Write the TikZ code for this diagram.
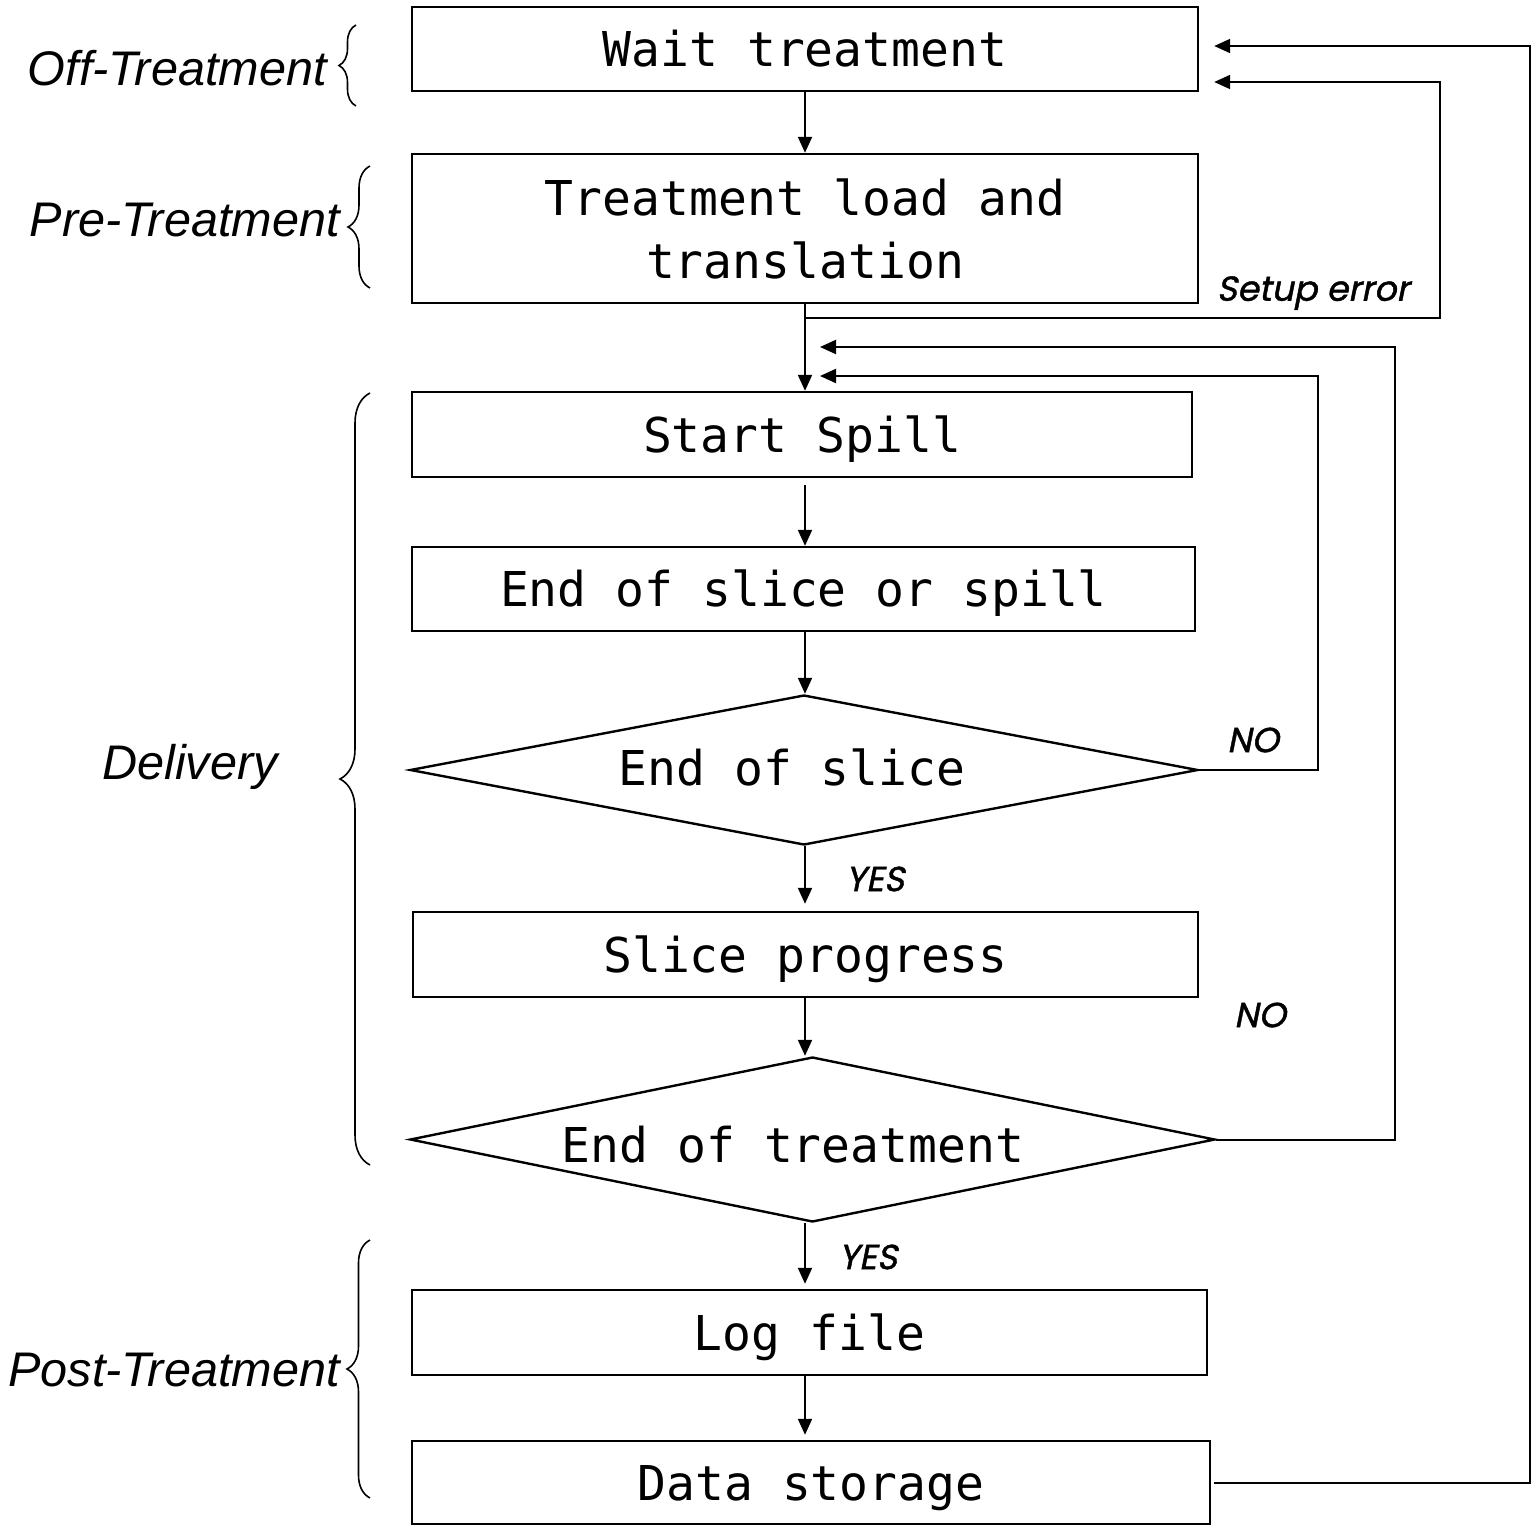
\documentclass[tikz,border=0pt]{standalone}
\usepackage{fontspec}
\setmainfont{Liberation Sans}
\newfontfamily\monof{DejaVu Sans Mono}
\newfontfamily\gothic[FakeSlant=0.2,FakeBold=1.2]{Poppins}
\usetikzlibrary{shapes.geometric,arrows.meta,decorations.pathreplacing}
\begin{document}
\begin{tikzpicture}[x=0.5pt,y=-0.5pt,
  box/.style={draw, line width=1.2pt, rectangle, inner sep=0pt, font=\monof\fontsize{24}{31.5}\selectfont, align=center},
  one/.style={text height=17.5pt, text depth=0pt},
  dia/.style={draw, line width=1.2pt, diamond, inner sep=0pt},
  dtext/.style={inner sep=0pt, font=\monof\fontsize{24}{31.5}\selectfont, text height=17.5pt, text depth=0pt},
  arr/.style={line width=1pt, -{Triangle[length=8pt,width=7pt]}},
  side/.style={font=\itshape\fontsize{24.3}{28}\selectfont, inner sep=0pt},
  tag/.style={font=\gothic\fontsize{17.4}{20}\selectfont, inner sep=0pt},
  brc/.style={decorate, line width=0.8pt}
]
\useasboundingbox (0,0) rectangle (1532,1526);

% boxes
\node[box, one, minimum width=393pt, minimum height=42pt] (wait) at (805,49) {Wait treatment};
\node[box, minimum width=393pt, minimum height=74.5pt] (load) at (805,228.5) {Treatment load and\\translation};
\node[box, one, minimum width=390pt, minimum height=42.5pt] (spill) at (802,434.5) {Start Spill};
\node[box, one, minimum width=391.5pt, minimum height=42pt] (eos) at (803.5,589) {End of slice or spill};
\node[dia, minimum width=394pt, minimum height=75pt] (d1) at (804,770) {};
\node[dtext] (d1t) at (792,768) {End of slice};
\node[box, one, minimum width=392.5pt, minimum height=42.5pt] (sp) at (805.5,954.5) {Slice progress};
\node[dia, minimum width=402.5pt, minimum height=82.5pt] (d2) at (812.5,1139.5) {};
\node[dtext] (d2t) at (793,1145) {End of treatment};
\node[box, one, minimum width=397.5pt, minimum height=42.5pt] (log) at (809.5,1332.5) {Log file};
\node[box, one, minimum width=399pt, minimum height=41.5pt] (ds) at (811,1482.5) {Data storage};

% main flow
\draw[arr] (wait.south) -- (load.north);
\coordinate (sej) at (805,318);
\draw[arr] (load.south) -- (load.south |- spill.north);
\draw[arr, shorten <=3.5pt] (spill.south -| load.south) -- (eos.north -| load.south);
\draw[arr] (eos.south -| load.south) -- (d1.north -| load.south);
\draw[arr, shorten >=3.5pt] (d1.south -| load.south) -- (sp.north -| load.south);
\draw[arr] (sp.south -| load.south) -- (d2.north -| load.south);
\draw[arr, shorten >=2.5pt] (d2.south -| load.south) -- (log.north -| load.south);
\draw[arr, shorten >=2.5pt] (log.south -| load.south) -- (ds.north -| load.south);

% feedback loops
\draw[arr, shorten >=7.5pt] (sej) -- (1440,318) -- (1440,82) -- (wait.east |- 1440,82);
\draw[arr, shorten <=1.5pt, shorten >=7.5pt] (ds.east) -- (1530,1482.5) -- (1530,46) -- (wait.east |- 1530,46);
\draw[arr, shorten >=7.5pt] (d2.east) -- (1395,1139.5) -- (1395,347) -- (sej |- 1395,347);
\draw[arr, shorten >=7.5pt] (d1.east) -- (1318,770) -- (1318,376) -- (sej |- 1318,376);

% tags
\node[tag] (tse) at (1313,293) {Setup error};
\node[tag] (tno1) at (1253,740) {NO};
\node[tag] (tyes1) at (875,879) {YES};
\node[tag] (tno2) at (1260,1015) {NO};
\node[tag] (tyes2) at (868,1257) {YES};

% side labels
\node[side, anchor=east] (off) at (327,68) {Off-Treatment};
\node[side, anchor=east] (pre) at (340,220) {Pre-Treatment};
\node[side] (del) at (190,767) {Delivery};
\node[side, anchor=east] (post) at (340,1370) {Post-Treatment};

% braces
\draw[brc, decoration={brace, amplitude=8.5pt}] (356,106) -- (356,25);
\draw[brc, decoration={brace, amplitude=11pt}] (370,288) -- (370,166);
\draw[brc, decoration={brace, amplitude=15pt}] (370,1165) -- (370,393);
\draw[brc, decoration={brace, amplitude=11.5pt}] (370,1498) -- (370,1240);
\end{tikzpicture}
\end{document}
